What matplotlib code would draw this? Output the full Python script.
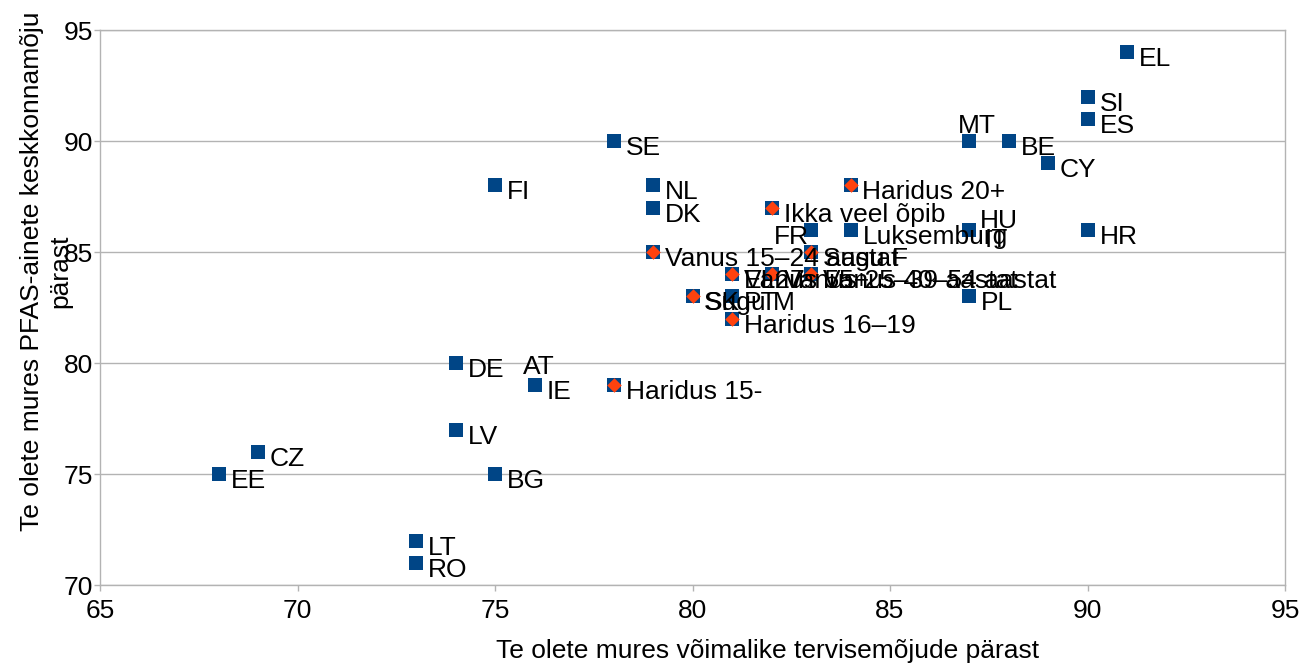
import matplotlib
matplotlib.use("Agg")
import matplotlib.pyplot as plt

plt.rcParams['font.family'] = ['Liberation Sans', 'DejaVu Sans']

# riigid
countries = ["EL", "SI", "ES", "MT", "BE", "CY", "SE", "FI", "NL", "DK",
             "HU", "IT", "HR", "Luksemburg", "FR", "PL", "PT", "SK", "EL27",
             "DE", "AT", "IE", "LV", "CZ", "EE", "BG", "LT", "RO"]
country_x = [91, 90, 90, 87, 88, 89, 78, 75, 79, 79,
             87, 87, 90, 84, 83, 87, 81, 80, 81,
             74, 76, 76, 74, 69, 68, 75, 73, 73]
country_y = [94, 92, 91, 90, 90, 89, 90, 88, 88, 87,
             86, 86, 86, 86, 86, 83, 83, 83, 84,
             80, 79, 79, 77, 76, 75, 75, 72, 71]

# sotsiaal-demograafilised rühmad
groups = ["Haridus 20+", "Ikka veel õpib", "Vanus 15–24 aastat", "Sugu F",
          "Vanus 55+", "Vanus 25–39 aastat", "Vanus 40–54 aastat", "Sugu M",
          "Haridus 16–19", "Haridus 15-"]
group_x = [84, 82, 79, 83, 81, 82, 83, 80, 81, 78]
group_y = [88, 87, 85, 85, 84, 84, 84, 83, 82, 79]

BLUE = "#004586"
ORANGE = "#ff420e"
GRID = "#b3b3b3"
PX = 0.72  # 1 px in points at dpi 100

fig = plt.figure(figsize=(13.05, 6.63), dpi=100)
ax = fig.add_axes([100 / 1305, 1 - 585 / 663, 1185 / 1305, 555 / 663])

ax.scatter(country_x, country_y, marker="s", s=9.5 ** 2, color=BLUE, zorder=3, linewidths=0)
ax.scatter(group_x, group_y, marker="s", s=9.5 ** 2, color=BLUE, zorder=3, linewidths=0)
ax.scatter(group_x, group_y, marker="D", s=7.4 ** 2, color=ORANGE, zorder=4, linewidths=0)

# sildi nihe pikslites (dx, dy alla), joondus
default_pos = (12, 7, "left")
special_pos = {
    "MT": (8, -15, "center"),
    "AT": (4, -18, "center"),
    "FR": (-2, 7, "right"),
    "HU": (11, -9, "left"),
    "IT": (16, 10, "left"),
}

for name, x, y in list(zip(countries, country_x, country_y)) + list(zip(groups, group_x, group_y)):
    dx, dy, ha = special_pos.get(name, default_pos)
    ax.annotate(name, (x, y), xytext=(dx * PX, -dy * PX), textcoords="offset points",
                ha=ha, va="center", fontsize=19, color="black", zorder=5)

ax.set_xlim(65, 95)
ax.set_ylim(70, 95)
ax.set_xticks(range(65, 96, 5))
ax.set_yticks(range(70, 96, 5))
ax.tick_params(labelsize=19, colors=GRID, labelcolor="black", length=4, width=1)
ax.tick_params(axis="x", pad=6)
ax.tick_params(axis="y", pad=1)
ax.yaxis.grid(True, color=GRID, linewidth=1)
ax.set_axisbelow(True)
for sp in ax.spines.values():
    sp.set_color(GRID)
    sp.set_linewidth(1)

fig.text(768 / 1305, 1 - 658 / 663, "Te olete mures võimalike tervisemõjude pärast",
         ha="center", va="baseline", fontsize=19)
fig.text(46 / 1305, 1 - 271 / 663, "Te olete mures PFAS-ainete keskkonnamõju\npärast",
         ha="center", va="center", rotation=90, multialignment="center", fontsize=19)

fig.savefig("out.png", dpi=100)
